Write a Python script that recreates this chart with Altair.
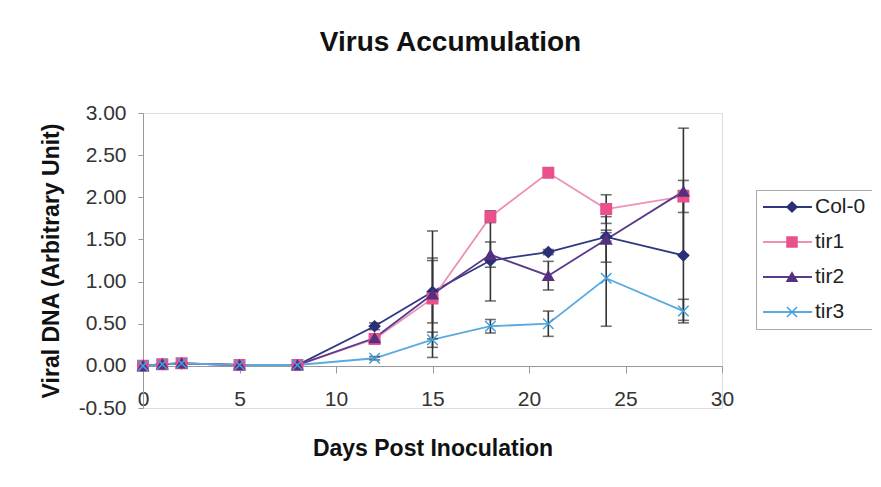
import altair as alt
import pandas as pd

days = [0, 1, 2, 5, 8, 12, 15, 18, 21, 24, 28]
series_names = ["Col-0", "tir1", "tir2", "tir3"]

col0 = [0.00, 0.02, 0.03, 0.01, 0.01, 0.47, 0.88, 1.25, 1.35, 1.53, 1.31]
tir1 = [0.00, 0.02, 0.03, 0.01, 0.01, 0.32, 0.80, 1.77, 2.29, 1.86, 2.01]
tir2 = [0.00, 0.02, 0.03, 0.01, 0.01, 0.33, 0.85, 1.32, 1.07, 1.50, 2.07]
tir3 = [0.00, 0.02, 0.03, 0.01, 0.01, 0.09, 0.31, 0.47, 0.50, 1.04, 0.65]

col0_err = [0, 0, 0, 0, 0, 0.04, 0.37, 0.48, 0.03, 0.05, 0.77]
tir1_err = [0, 0, 0, 0, 0, 0.03, 0.48, 0.07, 0.00, 0.17, 0.19]
tir2_err = [0, 0, 0, 0, 0, 0.03, 0.75, 0.15, 0.17, 0.27, 0.75]
tir3_err = [0, 0, 0, 0, 0, 0.02, 0.09, 0.08, 0.15, 0.57, 0.14]

line_colors = ["#2E3780", "#EE8FB8", "#5A3A8A", "#5AAAE0"]
marker_colors = ["#2A2F78", "#E9508C", "#553080", "#3FA0E0"]
marker_shapes = ["diamond", "square", "triangle-up", "M-1,-1L1,1M-1,1L1,-1"]

rows = []
for name, vals, errs in zip(series_names, [col0, tir1, tir2, tir3],
                            [col0_err, tir1_err, tir2_err, tir3_err]):
    for d, v, e in zip(days, vals, errs):
        rows.append({"day": d, "value": v, "err": e, "series": name,
                     "series_line": name, "lo": v - e, "hi": v + e})
df = pd.DataFrame(rows)

FONT = "Liberation Sans"

x_axis = alt.Axis(values=list(range(0, 31, 5)), title="Days Post Inoculation",
                  offset=-42, tickSize=7, labelPadding=15, labelFontSize=21,
                  labelFont=FONT, labelColor="#333", domainColor="#999",
                  tickColor="#999", titleFontSize=23, titleFont=FONT,
                  titleFontWeight="bold", titleColor="#111", titleY=82,
                  titleBaseline="middle", grid=False, labelFlush=False)
y_axis = alt.Axis(values=[-0.5, 0, 0.5, 1, 1.5, 2, 2.5, 3],
                  labelExpr="datum.value < 0 ? '-' + format(-datum.value, '.2f') : format(datum.value, '.2f')",
                  title="Viral DNA (Arbitrary Unit)", tickSize=5, labelPadding=12,
                  labelFontSize=21, labelFont=FONT, labelColor="#333",
                  domainColor="#999", tickColor="#999", titleFontSize=23,
                  titleFont=FONT, titleFontWeight="bold", titleColor="#111",
                  titleX=-92, titleBaseline="middle", grid=False)

xs = alt.Scale(domain=[0, 30], nice=False, zero=False)
ys = alt.Scale(domain=[-0.5, 3], nice=False, zero=False)

X = alt.X("day:Q", scale=xs, axis=x_axis)
Y = alt.Y("value:Q", scale=ys, axis=y_axis)

line_legend = alt.Legend(title=None, orient="none", legendX=613, legendY=77,
                         symbolType="stroke", symbolSize=2401, symbolStrokeWidth=2,
                         clipHeight=22, rowPadding=13, padding=6, labelOffset=2,
                         labelFontSize=21, labelFont=FONT, labelColor="#222",
                         strokeColor="#aaa")
lines = alt.Chart(df).mark_line(strokeWidth=1.8).encode(
    x=X, y=Y,
    color=alt.Color("series_line:N", scale=alt.Scale(range=line_colors),
                    legend=line_legend),
    order="day:Q",
)

err_df = df[df["err"] > 0]
rules = alt.Chart(err_df).mark_rule(color="#333", strokeWidth=1.6).encode(
    x=X, y=alt.Y("lo:Q", scale=ys, axis=y_axis), y2="hi:Q")
caps_lo = alt.Chart(err_df).mark_tick(color="#333", orient="horizontal", size=11,
                                      thickness=1.6).encode(
    x=X, y=alt.Y("lo:Q", scale=ys, axis=y_axis))
caps_hi = alt.Chart(err_df).mark_tick(color="#333", orient="horizontal", size=11,
                                      thickness=1.6).encode(
    x=X, y=alt.Y("hi:Q", scale=ys, axis=y_axis))

pt_legend = alt.Legend(title=None, orient="none", legendX=613, legendY=77,
                       symbolSize=100, clipHeight=22, rowPadding=13, padding=6,
                       symbolOffset=19.5, labelOffset=2, labelFontSize=21,
                       labelFont=FONT, labelExpr="''")
points = alt.Chart(df).mark_point(filled=True, size=110, strokeWidth=1.5, opacity=1).encode(
    x=X, y=Y,
    fill=alt.Fill("series:N", scale=alt.Scale(range=marker_colors), legend=pt_legend),
    stroke=alt.Stroke("series:N", scale=alt.Scale(range=marker_colors), legend=pt_legend),
    shape=alt.Shape("series:N", scale=alt.Scale(range=marker_shapes), legend=pt_legend),
)

chart = alt.layer(lines, rules, caps_lo, caps_hi, points).properties(
    width=579, height=295,
    padding={"left": 135, "top": 105, "right": 150, "bottom": 70},
    autosize=alt.AutoSizeParams(type="none"),
    title=alt.TitleParams("Virus Accumulation", fontSize=28, font=FONT,
                          fontWeight="bold", color="#111", offset=45, dx=18),
).configure_view(stroke=None).configure(background="white")

chart.save("out.html", embed_options={"renderer": "svg", "actions": False})
